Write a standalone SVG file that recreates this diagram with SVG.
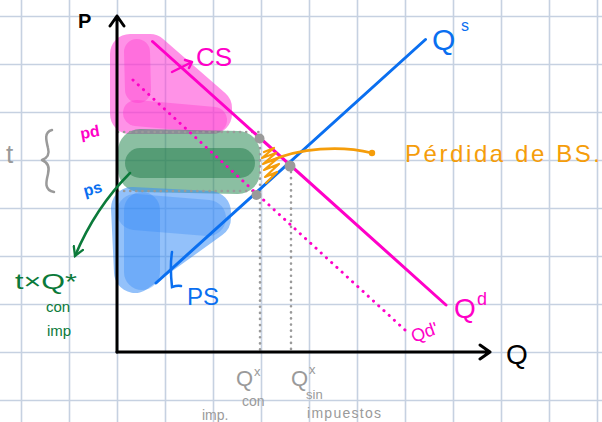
<svg xmlns="http://www.w3.org/2000/svg" width="602" height="422" viewBox="0 0 602 422">
<defs>
<style>
.grid line{stroke:#c6d1e1;stroke-width:1.6}
.hand{font-family:"Liberation Sans","DejaVu Sans",sans-serif}
.blob{stroke-linecap:round;stroke-linejoin:round}
.dotg{fill:none;stroke:#9a9a9a;stroke-width:2.6;stroke-dasharray:0.1 6;stroke-linecap:round}
.gdot{fill:#9a9a9a}
</style>
<marker id="ahG" viewBox="0 0 10 10" refX="8" refY="5" markerWidth="5" markerHeight="5" orient="auto"><path d="M1,1 L8,5 L1,9" fill="none" stroke="#0b7a3a" stroke-width="1.8" stroke-linecap="round"/></marker>
</defs>
<rect width="602" height="422" fill="#ffffff"/>
<g class="grid">
<line x1="21.5" y1="0" x2="21.5" y2="422"/><line x1="69.5" y1="0" x2="69.5" y2="422"/><line x1="117.5" y1="0" x2="117.5" y2="422"/><line x1="165.5" y1="0" x2="165.5" y2="422"/><line x1="213.5" y1="0" x2="213.5" y2="422"/><line x1="261.5" y1="0" x2="261.5" y2="422"/><line x1="309.5" y1="0" x2="309.5" y2="422"/><line x1="357.5" y1="0" x2="357.5" y2="422"/><line x1="405.5" y1="0" x2="405.5" y2="422"/><line x1="453.5" y1="0" x2="453.5" y2="422"/><line x1="501.5" y1="0" x2="501.5" y2="422"/><line x1="549.5" y1="0" x2="549.5" y2="422"/><line x1="597.5" y1="0" x2="597.5" y2="422"/>
<line x1="0" y1="16.5" x2="602" y2="16.5"/><line x1="0" y1="64.5" x2="602" y2="64.5"/><line x1="0" y1="112.5" x2="602" y2="112.5"/><line x1="0" y1="160.5" x2="602" y2="160.5"/><line x1="0" y1="208.5" x2="602" y2="208.5"/><line x1="0" y1="256.5" x2="602" y2="256.5"/><line x1="0" y1="304.5" x2="602" y2="304.5"/><line x1="0" y1="352.5" x2="602" y2="352.5"/><line x1="0" y1="400.5" x2="602" y2="400.5"/>
</g>
<g id="cs-area">
<g opacity="0.55"><path class="blob" d="M130,54 L150,54 L212,108 L212,114 L130,114 Z" fill="#ff3ad4" stroke="#ff3ad4" stroke-width="40"/></g>
<path class="blob" d="M137,52 L138,90" fill="none" stroke="#ff2fcc" stroke-opacity="0.35" stroke-width="26"/>
<path class="blob" d="M136,113 L214,120" fill="none" stroke="#ff2fcc" stroke-opacity="0.35" stroke-width="26"/>
</g>
<g id="tax-area">
<g opacity="0.55"><path class="blob" d="M140,151 L238,153 L238,172 L140,170 Z" fill="#2e8b57" stroke="#2e8b57" stroke-width="44"/></g>
<path class="blob" d="M140,163 L240,163" fill="none" stroke="#1f7a48" stroke-opacity="0.5" stroke-width="30"/>
</g>
<g id="ps-area">
<g opacity="0.55"><path class="blob" d="M132,208 L210,212 L210,218 L135,272 Z" fill="#3b8ff6" stroke="#3b8ff6" stroke-width="42"/></g>
<path class="blob" d="M142,210 L142,272" fill="none" stroke="#2f86f6" stroke-opacity="0.35" stroke-width="36"/>
<path class="blob" d="M135,212 L208,218" fill="none" stroke="#2f86f6" stroke-opacity="0.3" stroke-width="36"/>
</g>
<g id="connectors">
<path class="dotg" d="M118,132 L259,132 M260,142 L260,352"/>
<path class="dotg" d="M118,191 L257,191"/>
<path class="dotg" d="M291,172 L291,352"/>
<path d="M133,80 L405,330" fill="none" stroke="#ff00c8" stroke-width="3" stroke-dasharray="0.1 7" stroke-linecap="round"/>
<line x1="152.5" y1="41.5" x2="446" y2="305" stroke="#ff00c8" stroke-width="3" stroke-linecap="round"/>
<line x1="156" y1="283" x2="425.5" y2="39.5" stroke="#0a6ff0" stroke-width="3" stroke-linecap="round"/>
<path d="M117,352 L117,16 M110,26 L117,16 L124,26" fill="none" stroke="#000" stroke-width="3" stroke-linecap="round" stroke-linejoin="round"/>
<path d="M117,352 L490,352 M480,345 L490,352 L480,359" fill="none" stroke="#000" stroke-width="3" stroke-linecap="round" stroke-linejoin="round"/>
<path d="M172,72 L192,62 M185,60 L192,62 L189,68" fill="none" stroke="#ff00c8" stroke-width="2.5" stroke-linecap="round" stroke-linejoin="round"/>
<path d="M172,252 C170,265 171,278 172,287 C175,286 178,285 181,286" fill="none" stroke="#0a6ff0" stroke-width="2.5" stroke-linecap="round"/>
<path d="M130,173 C108,195 88,225 75,256" fill="none" stroke="#0b7a3a" stroke-width="2.5" stroke-linecap="round" marker-end="url(#ahG)"/>
<path d="M264,152 L274,148 L262,158 L276,153 L263,164 L278,158 L264,170 L279,164 L265,177 L277,172 L266,183" fill="none" stroke="#f59d0a" stroke-width="2.2" stroke-linecap="round" stroke-linejoin="round"/>
<path d="M270,161 C300,148 340,145 372,153" fill="none" stroke="#f59d0a" stroke-width="2.8" stroke-linecap="round"/>
<circle cx="372" cy="153" r="3.2" fill="#f59d0a"/>
<path d="M52,130 C44,132 46,140 48,148 C50,155 47,158 42,160 C47,162 50,166 48,174 C46,182 44,190 54,192" fill="none" stroke="#9a9a9a" stroke-width="2.5" stroke-linecap="round" stroke-linejoin="round"/>
<circle class="gdot" cx="259.5" cy="138.5" r="5"/>
<circle class="gdot" cx="290" cy="166" r="5.5"/>
<circle class="gdot" cx="256.5" cy="195" r="5"/>
</g>
<g id="labels" class="hand">
<text x="78" y="28" font-size="20" font-weight="bold" fill="#000">P</text>
<text x="506" y="364" font-size="28" fill="#000">Q</text>
<text x="432" y="50" font-size="30" fill="#0a6ff0">Q</text>
<text x="461" y="31" font-size="16" fill="#0a6ff0">s</text>
<text x="454" y="318" font-size="28" fill="#ff00c8">Q</text>
<text x="477" y="305" font-size="18" fill="#ff00c8">d</text>
<text x="410" y="338" font-size="18" fill="#ff00c8" transform="rotate(-20 425 330)">Qd'</text>
<text x="196" y="66" font-size="26" fill="#ff00c8">CS</text>
<text x="187" y="305" font-size="24" fill="#0a6ff0">PS</text>
<text x="80" y="138" font-size="16" font-weight="bold" fill="#ff00c8" transform="rotate(-10 88 132)">pd</text>
<text x="83" y="195" font-size="16" font-weight="bold" fill="#0a6ff0" transform="rotate(-15 90 188)">ps</text>
<text x="6" y="163" font-size="26" fill="#9a9a9a">t</text>
<text x="405" y="162" font-size="24" fill="#f59d0a" textLength="195" lengthAdjust="spacing">Pérdida de BS.</text>
<text x="15" y="289" font-size="22" fill="#0b7a3a" textLength="62" lengthAdjust="spacingAndGlyphs">t×Q*</text>
<text x="46" y="312" font-size="15" fill="#0b7a3a">con</text>
<text x="47" y="336" font-size="15" fill="#0b7a3a">imp</text>
<text x="236" y="386" font-size="22" fill="#9a9a9a">Q</text>
<text x="254" y="376" font-size="13" fill="#9a9a9a">x</text>
<text x="242" y="406" font-size="14" fill="#9a9a9a">con</text>
<text x="202" y="420" font-size="14" fill="#9a9a9a">imp.</text>
<text x="291" y="386" font-size="22" fill="#9a9a9a">Q</text>
<text x="309" y="374" font-size="13" fill="#9a9a9a">x</text>
<text x="306" y="399" font-size="13" fill="#9a9a9a">sin</text>
<text x="307" y="418" font-size="14" fill="#9a9a9a" textLength="74" lengthAdjust="spacing">impuestos</text>
</g>
</svg>
